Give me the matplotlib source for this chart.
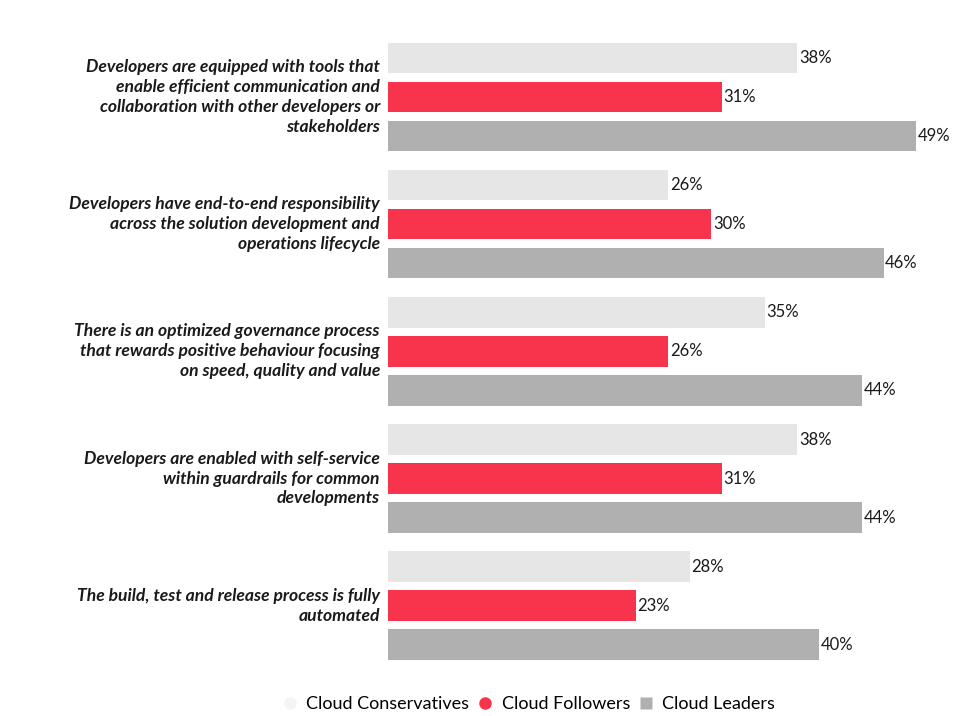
import matplotlib.pyplot as plt
import numpy as np
from matplotlib.lines import Line2D

statements = [
    "Developers are equipped with tools that\nenable efficient communication and\ncollaboration with other developers or\nstakeholders",
    "Developers have end-to-end responsibility\nacross the solution development and\noperations lifecycle",
    "There is an optimized governance process\nthat rewards positive behaviour focusing\non speed, quality and value",
    "Developers are enabled with self-service\nwithin guardrails for common\ndevelopments",
    "The build, test and release process is fully\nautomated",
]
conservatives = [38, 26, 35, 38, 28]
followers = [31, 30, 26, 31, 23]
leaders = [49, 46, 44, 44, 40]

series = [
    ("Cloud Conservatives", conservatives, "#e6e6e6"),
    ("Cloud Followers", followers, "#f8334c"),
    ("Cloud Leaders", leaders, "#b0b0b0"),
]

group_gap = 3.26
offsets = [-1.0, 0.0, 1.0]
centers = np.arange(len(statements)) * group_gap

fig = plt.figure(figsize=(9.73, 7.16), dpi=100)
ax = fig.add_axes([388 / 973, 46 / 716, 585 / 973, 640 / 716])

for (name, values, color), off in zip(series, offsets):
    ys = centers + off
    ax.barh(ys, values, height=0.78, color=color, edgecolor="none")
    for y, v in zip(ys, values):
        ax.text(v + 0.15, y, f"{v}%", va="center", ha="left",
                fontsize=12, family="Lato", color="#1a1a1a")

for y, label in zip(centers, statements):
    ax.text(-0.75, y, label, ha="right", va="center", fontsize=12.6,
            family="Lato", style="italic", fontweight="bold",
            color="#1a1a1a", linespacing=1.3)

ax.set_xlim(0, 54.3)
ax.set_ylim(14.69, -1.72)
ax.axis("off")

handles = [
    Line2D([], [], marker="o", linestyle="none", markersize=9,
           markerfacecolor="#f4f4f4", markeredgecolor="none"),
    Line2D([], [], marker="o", linestyle="none", markersize=9,
           markerfacecolor=series[1][2], markeredgecolor="none"),
    Line2D([], [], marker="s", linestyle="none", markersize=8,
           markerfacecolor=series[2][2], markeredgecolor="none"),
]
fig.legend(handles, [s[0] for s in series], loc="center",
           bbox_to_anchor=(528 / 973, 1 - 704 / 716), ncol=3, frameon=False,
           prop={"family": "Lato", "size": 13}, handletextpad=0.4,
           columnspacing=0.4, handlelength=1.0)

fig.savefig("out.png", dpi=100, facecolor="white")
